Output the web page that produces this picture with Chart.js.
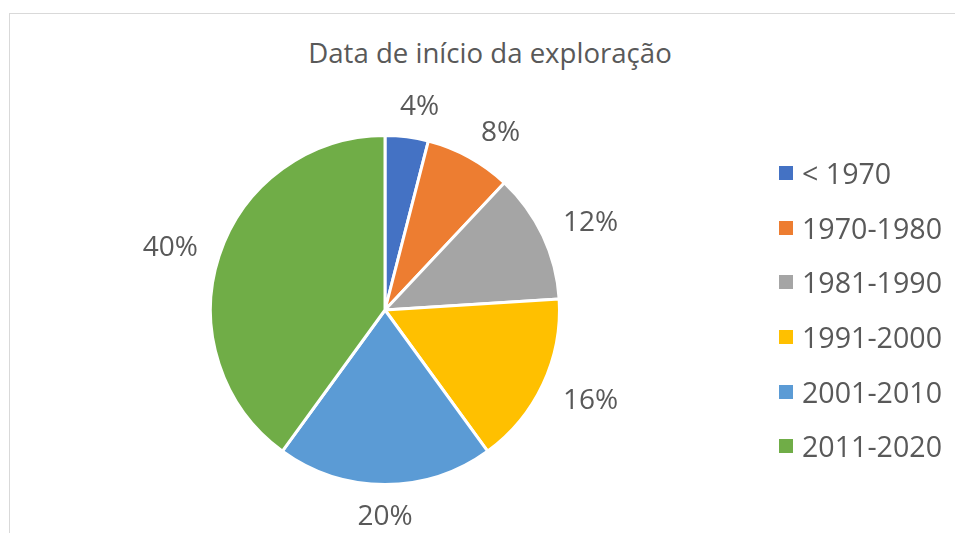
<!DOCTYPE html>
<html lang="pt">
<head>
  <meta charset="UTF-8">
  <title>Data de início da exploração</title>
  <script src="https://cdn.jsdelivr.net/npm/chart.js@4"></script>
  <style>
    html, body { margin: 0; padding: 0; background: #fff; overflow: hidden; }
    body { width: 955px; height: 533px; position: relative; font-family: "Open Sans", sans-serif; color: #595959; }
    .frame { position: absolute; left: 9px; top: 13px; width: 1000px; height: 600px; border: 1px solid #d9d9d9; box-sizing: border-box; }
    #chart { position: absolute; left: 0; top: 0; }
    .title { position: absolute; left: 9px; width: 962px; top: 39px; margin: 0; text-align: center; font-size: 27.6px; line-height: 27px; font-weight: normal; white-space: nowrap; }
    .legend { position: absolute; left: 779px; top: 146px; list-style: none; margin: 0; padding: 0; }
    .legend li { display: flex; align-items: center; height: 54.6px; font-size: 28.6px; line-height: 28px; white-space: nowrap; }
    .legend .box { width: 14px; height: 14px; margin-right: 9px; flex: none; }
  </style>
</head>
<body>

  <div class="frame"></div>
  <h1 class="title">Data de início da exploração</h1>
  <canvas id="chart" width="955" height="533"></canvas>
  <ul class="legend" id="legend"></ul>

  <script>
    // data
    const categories = ['< 1970', '1970-1980', '1981-1990', '1991-2000', '2001-2010', '2011-2020'];
    const shares = [4, 8, 12, 16, 20, 40];

    // styling
    const colors = ['#4472C4', '#ED7D31', '#A5A5A5', '#FFC000', '#5B9BD5', '#70AD47'];
    const textColor = '#595959';
    // direction (degrees, clockwise from top) where Excel put each % label
    const labelAngles = [9.6, 32.8, 66.7, 113.3, 180, 286.5];

    // legend built from the same arrays
    const legendEl = document.getElementById('legend');
    categories.forEach((name, i) => {
      const li = document.createElement('li');
      const box = document.createElement('span');
      box.className = 'box';
      box.style.background = colors[i];
      li.appendChild(box);
      li.appendChild(document.createTextNode(name));
      legendEl.appendChild(li);
    });

    // % labels outside the pie
    const outsideLabels = {
      id: 'outsideLabels',
      afterDatasetsDraw(chart) {
        const ctx = chart.ctx;
        const meta = chart.getDatasetMeta(0);
        ctx.save();
        ctx.font = '28px "Open Sans"';
        ctx.fillStyle = textColor;
        ctx.textAlign = 'center';
        ctx.textBaseline = 'alphabetic';
        meta.data.forEach((arc, i) => {
          const { x, y, outerRadius } = arc.getProps(['x', 'y', 'outerRadius'], true);
          const text = chart.data.datasets[0].data[i] + '%';
          const w = ctx.measureText(text).width;
          const a = labelAngles[i] * Math.PI / 180;
          const ux = Math.sin(a), uy = -Math.cos(a);
          const r = outerRadius + 20 + Math.abs(ux) * w / 2 + Math.abs(uy) * 10;
          ctx.fillText(text, x + ux * r, y + uy * r + 10);
        });
        ctx.restore();
      }
    };

    function draw() {
      new Chart(document.getElementById('chart'), {
        type: 'pie',
        data: {
          labels: categories,
          datasets: [{
            data: shares,
            backgroundColor: colors,
            borderColor: '#ffffff',
            borderWidth: 3,
            hoverBorderWidth: 3
          }]
        },
        options: {
          responsive: false,
          animation: false,
          events: [],
          layout: { padding: { top: 134, bottom: 47, left: 200, right: 385 } },
          plugins: {
            legend: { display: false },
            tooltip: { enabled: false },
            title: { display: false }
          }
        },
        plugins: [outsideLabels]
      });
    }

    if (document.fonts && document.fonts.load) {
      document.fonts.load('28px "Open Sans"').then(draw, draw);
    } else {
      draw();
    }
  </script>

</body>
</html>
